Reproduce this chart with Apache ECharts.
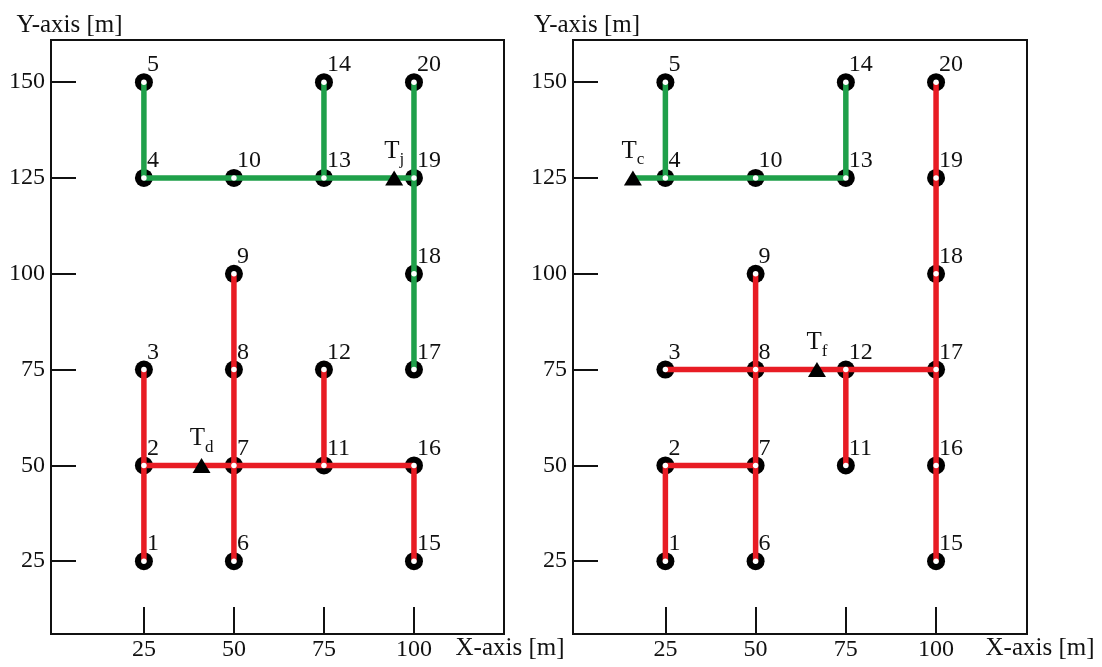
<!DOCTYPE html>
<html>
<head>
<meta charset="utf-8">
<script src="https://cdn.jsdelivr.net/npm/echarts@6/dist/echarts.min.js"></script>
<style>
  html, body { margin: 0; padding: 0; background: #fff; }
  #chart { width: 1102px; height: 667px; }
</style>
</head>
<body>
<div id="chart"></div>
<script>
// ---- data ----
const nodeNames = ['1','2','3','4','5','6','7','8','9','10','11','12','13','14','15','16','17','18','19','20'];
const nodeX = [25, 25, 25, 25, 25, 50, 50, 50, 50, 50, 75, 75, 75, 75, 100, 100, 100, 100, 100, 100];
const nodeY = [25, 50, 75, 125, 150, 25, 50, 75, 100, 125, 50, 75, 125, 150, 25, 50, 75, 100, 125, 150];
const xTicks = [25, 50, 75, 100];
const yTicks = [25, 50, 75, 100, 125, 150];

// terminals (triangles)
const leftTermNames = ['d', 'j'];
const leftTermX = [41, 94.5];
const leftTermY = [50, 125];
const rightTermNames = ['c', 'f'];
const rightTermX = [16, 67];
const rightTermY = [125, 75];

// paths as node numbers (strings = terminal names)
const leftRedPaths = [[1, 2, 3], [2, 7, 11, 16], [6, 7, 8, 9], [11, 12], [15, 16]];
const leftGreenPaths = [[5, 4, 10, 13, 19, 20], [19, 18, 17], [13, 14]];
const rightRedPaths = [[1, 2, 7], [6, 7, 8, 9], [3, 8, 12, 17], [11, 12], [15, 16, 17, 18, 19, 20]];
const rightGreenPaths = [['c', 4, 10, 13], [5, 4], [13, 14]];

// ---- style ----
const RED = '#e81c24';
const GREEN = '#1fa04a';
const INK = '#111111';
const FONT = 'Liberation Serif';

function pt(p, tNames, tX, tY) {
  if (typeof p === 'string') {
    const i = tNames.indexOf(p);
    return [tX[i], tY[i]];
  }
  return [nodeX[p - 1], nodeY[p - 1]];
}

function buildPanel(idx, redPaths, greenPaths, tNames, tX, tY) {
  const s = [];
  const nodeData = nodeNames.map((n, i) => ({ name: n, value: [nodeX[i], nodeY[i]] }));
  s.push({
    type: 'scatter', xAxisIndex: idx, yAxisIndex: idx, z: 2,
    symbol: 'circle', symbolSize: 18, itemStyle: { color: '#000', opacity: 1 },
    data: nodeData, silent: true,
    label: {
      show: true, formatter: '{b}', position: [12, 4], align: 'left', verticalAlign: 'bottom',
      fontFamily: FONT, fontSize: 24, color: INK
    }
  });
  const addPaths = (paths, color) => {
    paths.forEach(p => {
      s.push({
        type: 'line', xAxisIndex: idx, yAxisIndex: idx, z: 3,
        symbol: 'none', silent: true,
        lineStyle: { color: color, width: 5.5, cap: 'butt', opacity: 1 },
        data: p.map(q => pt(q, tNames, tX, tY))
      });
    });
  };
  addPaths(redPaths, RED);
  addPaths(greenPaths, GREEN);
  s.push({
    type: 'scatter', xAxisIndex: idx, yAxisIndex: idx, z: 4,
    symbol: 'circle', symbolSize: 5.5, itemStyle: { color: '#fff', opacity: 1 },
    data: nodeData, silent: true
  });
  s.push({
    type: 'scatter', xAxisIndex: idx, yAxisIndex: idx, z: 5,
    symbol: 'triangle', symbolSize: [18, 15], itemStyle: { color: '#000', opacity: 1 }, silent: true,
    data: tNames.map((n, i) => ({ name: n, value: [tX[i], tY[i]] })),
    label: {
      show: true, position: 'top', distance: 2,
      formatter: p => '{T|T}{s|' + p.name + '}',
      rich: {
        T: { fontFamily: FONT, fontSize: 25, color: INK, verticalAlign: 'bottom', padding: [0, 0, 5, 0] },
        s: { fontFamily: FONT, fontSize: 17, color: INK, verticalAlign: 'bottom' }
      }
    }
  });
  return s;
}

function xAxis(idx, min, max, gap) {
  return {
    type: 'value', gridIndex: idx, min: min, max: max,
    name: 'X-axis [m]', nameLocation: 'end', nameGap: gap,
    nameTextStyle: { fontFamily: FONT, fontSize: 25, color: INK, align: 'center', verticalAlign: 'top', padding: [2, 0, 0, 0] },
    axisLine: { show: false, onZero: false },
    axisTick: { show: true, inside: true, length: 27, customValues: xTicks, lineStyle: { color: INK, width: 2 } },
    axisLabel: { show: true, customValues: xTicks, margin: 4, fontFamily: FONT, fontSize: 24, color: INK },
    splitLine: { show: false }
  };
}
function yAxis(idx, padLeft) {
  return {
    type: 'value', gridIndex: idx, min: 6, max: 161,
    name: 'Y-axis [m]', nameLocation: 'end', nameGap: 2,
    nameTextStyle: { fontFamily: FONT, fontSize: 25, color: INK, align: 'center', verticalAlign: 'bottom', padding: [0, 0, 0, padLeft] },
    axisLine: { show: false, onZero: false },
    axisTick: { show: true, inside: true, length: 25, customValues: yTicks, lineStyle: { color: INK, width: 2 } },
    axisLabel: { show: true, customValues: yTicks, margin: 6, fontFamily: FONT, fontSize: 24, color: INK },
    splitLine: { show: false }
  };
}

const chart = echarts.init(document.getElementById('chart'), null, { renderer: 'canvas' });
chart.setOption({
  animation: false,
  backgroundColor: '#fff',
  grid: [
    { left: 51, top: 40, width: 453, height: 594, show: true, borderColor: INK, borderWidth: 2, backgroundColor: 'transparent' },
    { left: 573, top: 40, width: 454, height: 594, show: true, borderColor: INK, borderWidth: 2, backgroundColor: 'transparent' }
  ],
  xAxis: [xAxis(0, -0.8, 125, 6), xAxis(1, -0.6, 125.2, 13)],
  yAxis: [yAxis(0, 37), yAxis(1, 28)],
  series: [].concat(
    buildPanel(0, leftRedPaths, leftGreenPaths, leftTermNames, leftTermX, leftTermY),
    buildPanel(1, rightRedPaths, rightGreenPaths, rightTermNames, rightTermX, rightTermY)
  )
});
</script>
</body>
</html>
